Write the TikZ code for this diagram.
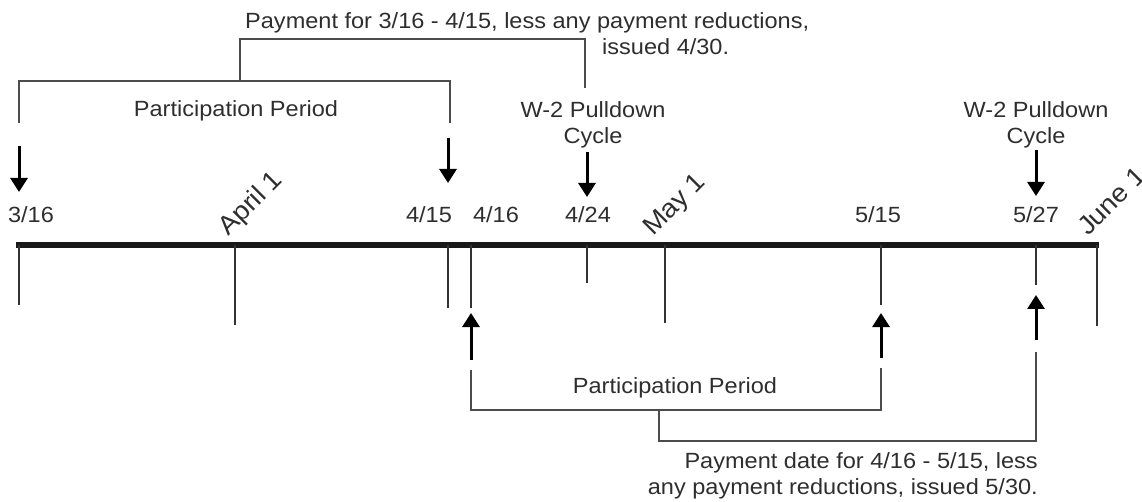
\documentclass[tikz,border=0pt]{standalone}
\usepackage{fontspec}
\setmainfont[FakeStretch=1.07]{Liberation Sans}
\usetikzlibrary{arrows.meta}
\begin{document}
\begin{tikzpicture}[x=1pt,y=-1pt,
  lbl/.style={font=\fontsize{22}{26}\selectfont, text=black!82, inner sep=0pt},
  rlbl/.style={lbl, font=\fontsize{26}{30}\selectfont, anchor=base west, rotate=45},
  axisline/.style={line width=6.5pt, draw=black!90},
  tickline/.style={line width=1.8pt, draw=black!80},
  bracket/.style={line width=1.6pt, draw=black!70},
  darrow/.style={line width=3pt, draw=black, -{Triangle[length=14pt,width=17pt]}},
]
\useasboundingbox (0,0) rectangle (1142,502);

% axis
\coordinate (axL) at (16,245);
\coordinate (axR) at (1099,245);
\draw[axisline] (axL) -- (axR);

% ticks
\coordinate (t316) at (19,245);   \coordinate (t316b) at (19,305);
\coordinate (tapr) at (235,245);  \coordinate (taprb) at (235,325);
\coordinate (t415) at (448,245);  \coordinate (t415b) at (448,308);
\coordinate (t416) at (471,245);  \coordinate (t416b) at (471,308);
\coordinate (t424) at (587,245);  \coordinate (t424b) at (587,283);
\coordinate (tmay) at (665,245);  \coordinate (tmayb) at (665,323);
\coordinate (t515) at (881,245);  \coordinate (t515b) at (881,305);
\coordinate (t527) at (1036,245); \coordinate (t527b) at (1036,285);
\coordinate (tjun) at (1097,245); \coordinate (tjunb) at (1097,326);
\foreach \t in {316,apr,415,416,424,may,515,527,jun}
  \draw[tickline] (t\t) -- (t\t b);

% down arrows
\coordinate (a316s) at (19,146);   \coordinate (a316e) at (19,192);
\coordinate (a415s) at (448,138);  \coordinate (a415e) at (448,183);
\coordinate (a424s) at (587,152);  \coordinate (a424e) at (587,197);
\coordinate (a527s) at (1036,150); \coordinate (a527e) at (1036,196);
\foreach \a in {316,415,424,527}
  \draw[darrow] (a\a s) -- (a\a e);

% up arrows
\coordinate (u416s) at (471,360);  \coordinate (u416e) at (471,313);
\coordinate (u515s) at (881,358);  \coordinate (u515e) at (881,313);
\coordinate (u527s) at (1036,340); \coordinate (u527e) at (1036,295);
\foreach \a in {416,515,527}
  \draw[darrow] (u\a s) -- (u\a e);

% upper brackets
\coordinate (b1a) at (19,123);  \coordinate (b1b) at (19,81);
\coordinate (b1c) at (450,81);  \coordinate (b1d) at (450,123);
\draw[bracket] (b1a) -- (b1b) -- (b1c) -- (b1d);
\coordinate (b2a) at (240,81);  \coordinate (b2b) at (240,39);
\coordinate (b2c) at (585,39);  \coordinate (b2d) at (585,88);
\draw[bracket] (b2a) -- (b2b) -- (b2c) -- (b2d);

% lower brackets
\coordinate (b3a) at (471,370); \coordinate (b3b) at (471,410);
\coordinate (b3c) at (881,410); \coordinate (b3d) at (881,368);
\draw[bracket] (b3a) -- (b3b) -- (b3c) -- (b3d);
\coordinate (b4a) at (659,410); \coordinate (b4b) at (659,441);
\coordinate (b4c) at (1036,441); \coordinate (b4d) at (1036,352);
\draw[bracket] (b4a) -- (b4b) -- (b4c) -- (b4d);

% date labels
\node[lbl, anchor=base] (l316) at (31,223) {3/16};
\node[lbl, anchor=base] (l415) at (429,223) {4/15};
\node[lbl, anchor=base] (l416) at (496,223) {4/16};
\node[lbl, anchor=base] (l424) at (588,223) {4/24};
\node[lbl, anchor=base] (l515) at (878,223) {5/15};
\node[lbl, anchor=base] (l527) at (1036,223) {5/27};
\node[rlbl] (lapr) at (228,237) {April 1};
\node[rlbl] (lmay) at (653,237) {May 1};
\node[rlbl] (ljun) at (1088,237) {June 1};

% other labels
\node[lbl, anchor=base] (pp1) at (236,117) {Participation Period};
\node[lbl, anchor=base] (pp2) at (675,393) {Participation Period};
\node[lbl, anchor=north, align=center] (w2a) at (593,101) {W-2 Pulldown\\Cycle};
\node[lbl, anchor=north, align=center] (w2b) at (1036,101) {W-2 Pulldown\\Cycle};
\node[lbl, anchor=base west] (pay1a) at (245,29) {Payment for 3/16 - 4/15, less any payment reductions,};
\node[lbl, anchor=base west] (pay1b) at (602,55) {issued 4/30.};
\node[lbl, anchor=north east, align=right] (pay2) at (1038,452) {Payment date for 4/16 - 5/15, less\\any payment reductions, issued 5/30.};
\end{tikzpicture}
\end{document}
